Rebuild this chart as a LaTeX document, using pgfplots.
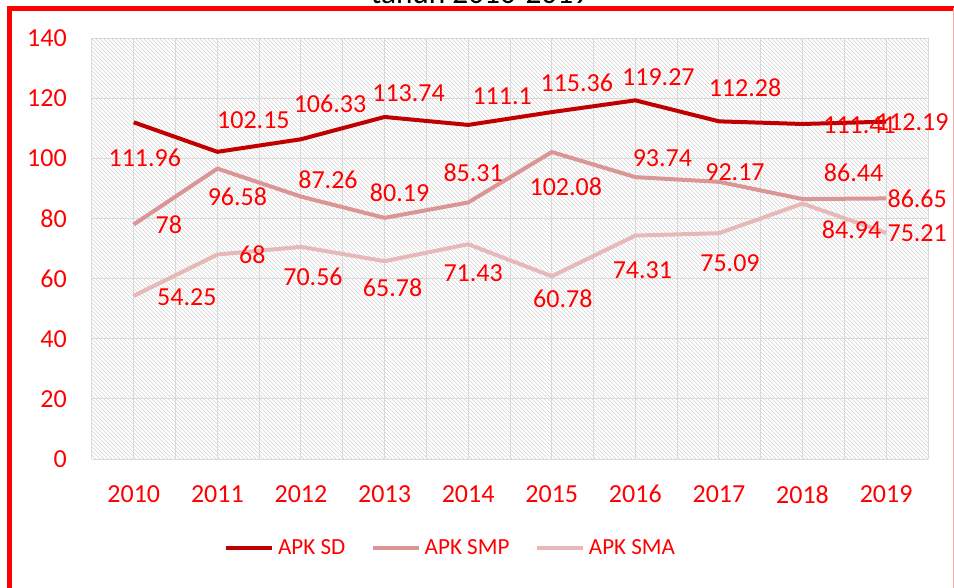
\documentclass[border=0pt]{standalone}
\usepackage{fontspec}
\setmainfont{Carlito}
\usepackage{pgfplots}
\pgfplotsset{compat=1.18}
\usepackage{pgfplotstable}
\usetikzlibrary{patterns}

\definecolor{lblred}{HTML}{FF0000}
\definecolor{sdcol}{HTML}{C00000}
\definecolor{smpcol}{HTML}{D99694}
\definecolor{smacol}{HTML}{E6B9B8}
\definecolor{gridgray}{HTML}{D9D9D9}

% x, value, label offset (px, right / up), label text
\pgfplotstableread{
x    y      dx  dy  lab
2010 111.96 11  -35 111.96
2011 102.15 36  32  102.15
2012 106.33 29  35  106.33
2013 113.74 24  24  113.74
2014 111.1  34  29  111.1
2015 115.36 25  29  115.36
2016 119.27 23  23  119.27
2017 112.28 26  34  112.28
2018 111.41 57  -1  111.41
2019 112.19 26  -1  112.19
}\sd

\pgfplotstableread{
x    y      dx  dy  lab
2010 78     35  0   78
2011 96.58  20  -28 96.58
2012 87.26  27  17  87.26
2013 80.19  15  25  80.19
2014 85.31  5   30  85.31
2015 102.08 14  -35 102.08
2016 93.74  27  19  93.74
2017 92.17  16  10  92.17
2018 86.44  51  26  86.44
2019 86.65  31  0   86.65
}\smp

\pgfplotstableread{
x    y      dx  dy  lab
2010 54.25  53  -1  54.25
2011 68     35  0   68
2012 70.56  12  -30 70.56
2013 65.78  8   -27 65.78
2014 71.43  5   -29 71.43
2015 60.78  11  -22 60.78
2016 74.31  7   -35 74.31
2017 75.09  11  -30 75.09
2018 84.94  49  -26 84.94
2019 75.21  31  0   75.21
}\sma

\pgfplotsset{
  lbl/.style={
    point meta=explicit symbolic,
    nodes near coords={\pgfplotspointmeta},
    visualization depends on={\thisrow{dx}\as\dx},
    visualization depends on={\thisrow{dy}\as\dy},
    every node near coord/.append style={anchor=center, inner sep=0pt,
      xshift=\dx*0.75pt, yshift=\dy*0.75pt,
      font=\fontsize{19.5}{22}\selectfont, text=lblred},
  },
}

\begin{document}
\begin{tikzpicture}
\useasboundingbox (0,0) rectangle (715.5pt,-440.25pt);

% outer frame and cut-off title
\draw[lblred, line width=3.75pt] (7.125pt,-460pt) -- (7.125pt,-6.375pt) -- (720pt,-6.375pt);
\draw[lblred!35, line width=0.75pt] (714.9pt,-6pt) -- (714.9pt,-460pt);
\node[anchor=base, font=\fontsize{23.5}{26}\selectfont] at (360pt,-2.5pt) {tahun 2010-2019};

\begin{axis}[
  at={(69pt,-344.25pt)}, anchor=south west,
  scale only axis, width=627pt, height=315.75pt,
  xmin=2009.5, xmax=2019.5, ymin=0, ymax=140,
  xtick={2010,...,2019}, ytick={0,20,...,140},
  minor xtick={2009.5,2010.5,...,2019.5},
  grid=both,
  major grid style={gridgray, line width=0.75pt},
  minor grid style={gridgray, line width=0.75pt},
  major tick length=0pt, minor tick length=0pt,
  axis line style={draw=none},
  axis background/.style={pattern=north west lines, pattern color=black!17},
  /pgf/number format/assume math mode=true,
  /pgf/number format/1000 sep={},
  tick label style={font=\fontsize{19.5}{22}\selectfont, text=lblred},
  xticklabel style={anchor=north, inner sep=0pt, yshift=-19.5pt},
  yticklabel style={anchor=east, inner sep=0pt, xshift=-18.75pt},
  clip=false,
  legend columns=3,
  legend style={at={(0.428,-0.211)}, anchor=center, draw=none, fill=none,
    inner sep=0pt, font=\fontsize{17.3}{20}\selectfont, text=lblred,
    nodes={inner sep=0pt},
    /tikz/every odd column/.append style={column sep=3pt},
    /tikz/every even column/.append style={column sep=19.5pt}},
  legend image code/.code={\draw[#1, line width=2.6pt] (0pt,0pt) -- (34.5pt,0pt);},
]
\addplot[sdcol, line width=3pt, line join=round, mark=none, lbl] table[x=x, y=y, meta=lab] {\sd};
\addplot[smpcol, line width=3pt, line join=round, mark=none, lbl] table[x=x, y=y, meta=lab] {\smp};
\addplot[smacol, line width=3pt, line join=round, mark=none, lbl] table[x=x, y=y, meta=lab] {\sma};
\legend{APK SD, APK SMP, APK SMA}
\end{axis}
\end{tikzpicture}
\end{document}
